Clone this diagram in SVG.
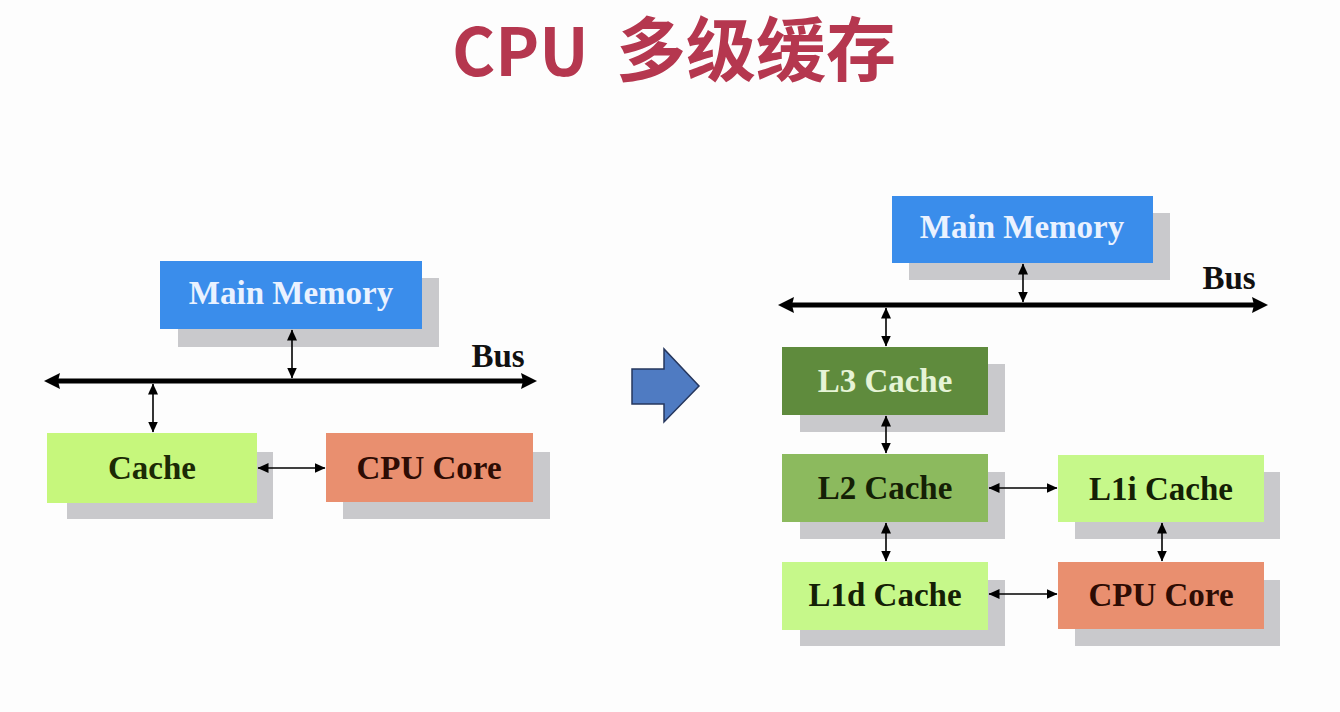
<svg xmlns="http://www.w3.org/2000/svg" width="1340" height="712" viewBox="0 0 1340 712">
<style>
.shadow{fill:#c9c9cc}
.lbl{font-family:"Liberation Serif","Times New Roman",serif;font-weight:bold;font-size:33px;text-anchor:middle}
.ttl{font-family:"Noto Sans CJK SC","Noto Sans",sans-serif;font-weight:bold;fill:#b5374f}
.bus{stroke:#000;stroke-width:5;fill:none;marker-start:url(#bh);marker-end:url(#bh)}
.lnk{stroke:#000;stroke-width:1.6;fill:none;marker-start:url(#sh);marker-end:url(#sh)}
</style>
<defs>
<marker id="bh" markerUnits="userSpaceOnUse" markerWidth="18" markerHeight="18" refX="10" refY="8" orient="auto-start-reverse">
<path d="M0,0 L16,8 L0,16 L2,8 z" fill="#000"/>
</marker>
<marker id="sh" markerUnits="userSpaceOnUse" markerWidth="12" markerHeight="12" refX="10.5" refY="5" orient="auto-start-reverse">
<path d="M0,0 L11,5 L0,10 z" fill="#000"/>
</marker>
</defs>
<rect width="1340" height="712" fill="#fdfdfd"/>
<g id="title">
<text class="ttl" x="452" y="76" font-size="66">CPU</text>
<text class="ttl" x="616" y="76" font-size="70">多级缓存</text>
</g>

<g id="left-main-memory">
<rect class="shadow" x="178" y="278" width="261" height="69"/>
<rect x="160" y="261" width="262" height="68" fill="#3a8deb"/>
<text class="lbl" x="291" y="304" fill="#eaf2ff">Main Memory</text>
</g>
<g id="left-cache">
<rect class="shadow" x="67" y="452" width="206" height="67"/>
<rect x="47" y="433" width="210" height="70" fill="#c6f77c"/>
<text class="lbl" x="152" y="479" fill="#1c2a05">Cache</text>
</g>
<g id="left-cpu-core">
<rect class="shadow" x="343" y="452" width="207" height="67"/>
<rect x="326" y="433" width="207" height="69" fill="#e98f6f"/>
<text class="lbl" x="429" y="479" fill="#2e0c04">CPU Core</text>
</g>
<g id="left-bus-label">
<text class="lbl" x="498" y="367" font-size="31" fill="#111">Bus</text>
</g>

<g id="transition-arrow">
<path d="M632,369 L664,369 L664,349 L699,386 L664,422 L664,404 L632,404 z" fill="#4f7bc2" stroke="#26375e" stroke-width="1.5"/>
</g>

<g id="right-main-memory">
<rect class="shadow" x="909" y="213" width="261" height="67"/>
<rect x="892" y="196" width="261" height="67" fill="#3a8deb"/>
<text class="lbl" x="1022" y="238" fill="#eaf2ff">Main Memory</text>
</g>
<g id="right-bus-label">
<text class="lbl" x="1229" y="289" font-size="31" fill="#111">Bus</text>
</g>
<g id="l3-cache">
<rect class="shadow" x="800" y="364" width="205" height="68"/>
<rect x="782" y="347" width="206" height="68" fill="#5f8b3d"/>
<text class="lbl" x="885" y="392" fill="#e6f4d6">L3 Cache</text>
</g>
<g id="l2-cache">
<rect class="shadow" x="800" y="472" width="205" height="67"/>
<rect x="782" y="454" width="206" height="68" fill="#8cba5e"/>
<text class="lbl" x="885" y="499" fill="#142005">L2 Cache</text>
</g>
<g id="l1i-cache">
<rect class="shadow" x="1075" y="472" width="205" height="67"/>
<rect x="1058" y="455" width="206" height="67" fill="#c6f88a"/>
<text class="lbl" x="1161" y="500" fill="#142005">L1i Cache</text>
</g>
<g id="l1d-cache">
<rect class="shadow" x="800" y="580" width="205" height="66"/>
<rect x="782" y="562" width="206" height="68" fill="#c6f88a"/>
<text class="lbl" x="885" y="606" fill="#142005">L1d Cache</text>
</g>
<g id="right-cpu-core">
<rect class="shadow" x="1075" y="580" width="205" height="66"/>
<rect x="1058" y="562" width="206" height="67" fill="#e98f6f"/>
<text class="lbl" x="1161" y="606" fill="#2e0c04">CPU Core</text>
</g>

<g id="connectors">
<line class="bus" x1="50" y1="381" x2="531" y2="381"/>
<line class="lnk" x1="292" y1="330" x2="292" y2="378"/>
<line class="lnk" x1="153" y1="384" x2="153" y2="432"/>
<line class="lnk" x1="258" y1="468" x2="325" y2="468"/>
<line class="bus" x1="784" y1="305" x2="1262" y2="305"/>
<line class="lnk" x1="1023" y1="264" x2="1023" y2="302"/>
<line class="lnk" x1="886" y1="308" x2="886" y2="346"/>
<line class="lnk" x1="886" y1="416" x2="886" y2="453"/>
<line class="lnk" x1="886" y1="523" x2="886" y2="561"/>
<line class="lnk" x1="989" y1="488" x2="1057" y2="488"/>
<line class="lnk" x1="1162" y1="523" x2="1162" y2="561"/>
<line class="lnk" x1="989" y1="594" x2="1057" y2="594"/>
</g>
</svg>
